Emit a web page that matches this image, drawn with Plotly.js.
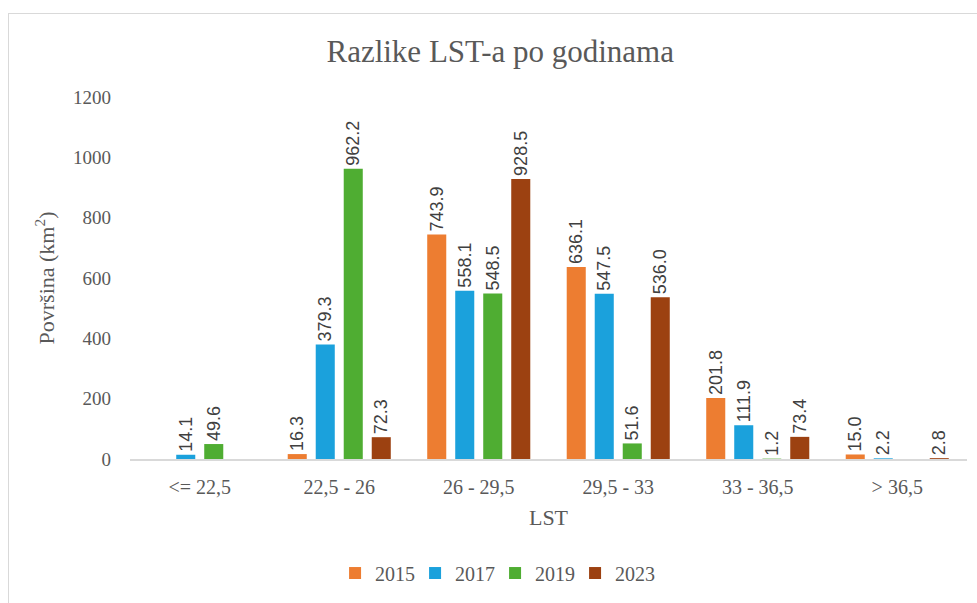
<!DOCTYPE html>
<html>
<head>
<meta charset="utf-8">
<script src="https://cdn.plot.ly/plotly-3.0.1.min.js"></script>
<style>
html,body{margin:0;padding:0;background:#fff;}
#chart{position:absolute;left:0;top:0;width:977px;height:603px;}
#frame{position:absolute;left:8px;top:13px;width:1000px;height:700px;border:1px solid #d9d9d9;pointer-events:none;}
</style>
</head>
<body>
<div id="chart"></div>
<div id="frame"></div>
<script>
const categories = ["<= 22,5", "22,5 - 26", "26 - 29,5", "29,5 - 33", "33 - 36,5", "> 36,5"];
const years = ["2015", "2017", "2019", "2023"];
const v2015 = [null, 16.3, 743.9, 636.1, 201.8, 15.0];
const v2017 = [14.1, 379.3, 558.1, 547.5, 111.9, 2.2];
const v2019 = [49.6, 962.2, 548.5, 51.6, 1.2, null];
const v2023 = [null, 72.3, 928.5, 536.0, 73.4, 2.8];
const colors = ["#ED7D31", "#1BA1DC", "#4FAD32", "#9C4111"];

const serif = "'Liberation Serif', 'Times New Roman', serif";
const sans = "'Liberation Sans', Arial, sans-serif";

const series = [v2015, v2017, v2019, v2023];
const traces = series.map((vals, i) => ({
  type: 'bar',
  name: years[i],
  x: categories,
  y: vals,
  marker: {color: colors[i]},
  texttemplate: '%{y:.1f}',
  textposition: 'outside',
  textangle: -90,
  constraintext: 'none',
  cliponaxis: false,
  textfont: {family: sans, size: 18, color: '#404040'},
  hoverinfo: 'x+y'
}));

const layout = {
  width: 977, height: 603,
  margin: {l: 130, r: 10, t: 97, b: 141},
  paper_bgcolor: '#ffffff',
  plot_bgcolor: '#ffffff',
  font: {family: serif, color: '#595959'},
  title: {text: 'Razlike LST-a po godinama', font: {family: serif, size: 31, color: '#595959'}, x: 0.512, xanchor: 'center', y: 0.915, yanchor: 'middle'},
  barmode: 'group',
  bargap: 0.197,
  bargroupgap: 0.32,
  xaxis: {
    type: 'category',
    showline: true, linecolor: '#d9d9d9', linewidth: 1.5,
    ticks: '', showgrid: false,
    ticklabelstandoff: 9,
    tickfont: {family: serif, size: 20, color: '#595959'},
    title: {text: 'LST', font: {family: serif, size: 22, color: '#595959'}, standoff: 13}
  },
  yaxis: {
    range: [0, 1200],
    tickvals: [0, 200, 400, 600, 800, 1000, 1200],
    showgrid: false, zeroline: false, showline: false,
    ticks: '', ticklen: 0,
    ticklabelstandoff: 18,
    tickfont: {family: serif, size: 19, color: '#595959'},
    title: {text: 'Površina (km<sup>2</sup>)', font: {family: serif, size: 22, color: '#595959'}, standoff: 12}
  },
  showlegend: true,
  legend: {
    orientation: 'h', x: 0.245, xanchor: 'left', y: -0.315, yanchor: 'middle',
    font: {family: serif, size: 20, color: '#595959'},
    itemwidth: 30, entrywidth: 35, entrywidthmode: 'pixels', traceorder: 'normal'
  }
};

Plotly.newPlot('chart', traces, layout, {displayModeBar: false, staticPlot: true}).then(() => {
  document.querySelectorAll('.legend .scrollbox, .legend').forEach(el => el.removeAttribute('clip-path'));
  document.querySelectorAll('.legend [clip-path]').forEach(el => el.removeAttribute('clip-path'));
});
</script>
</body>
</html>
